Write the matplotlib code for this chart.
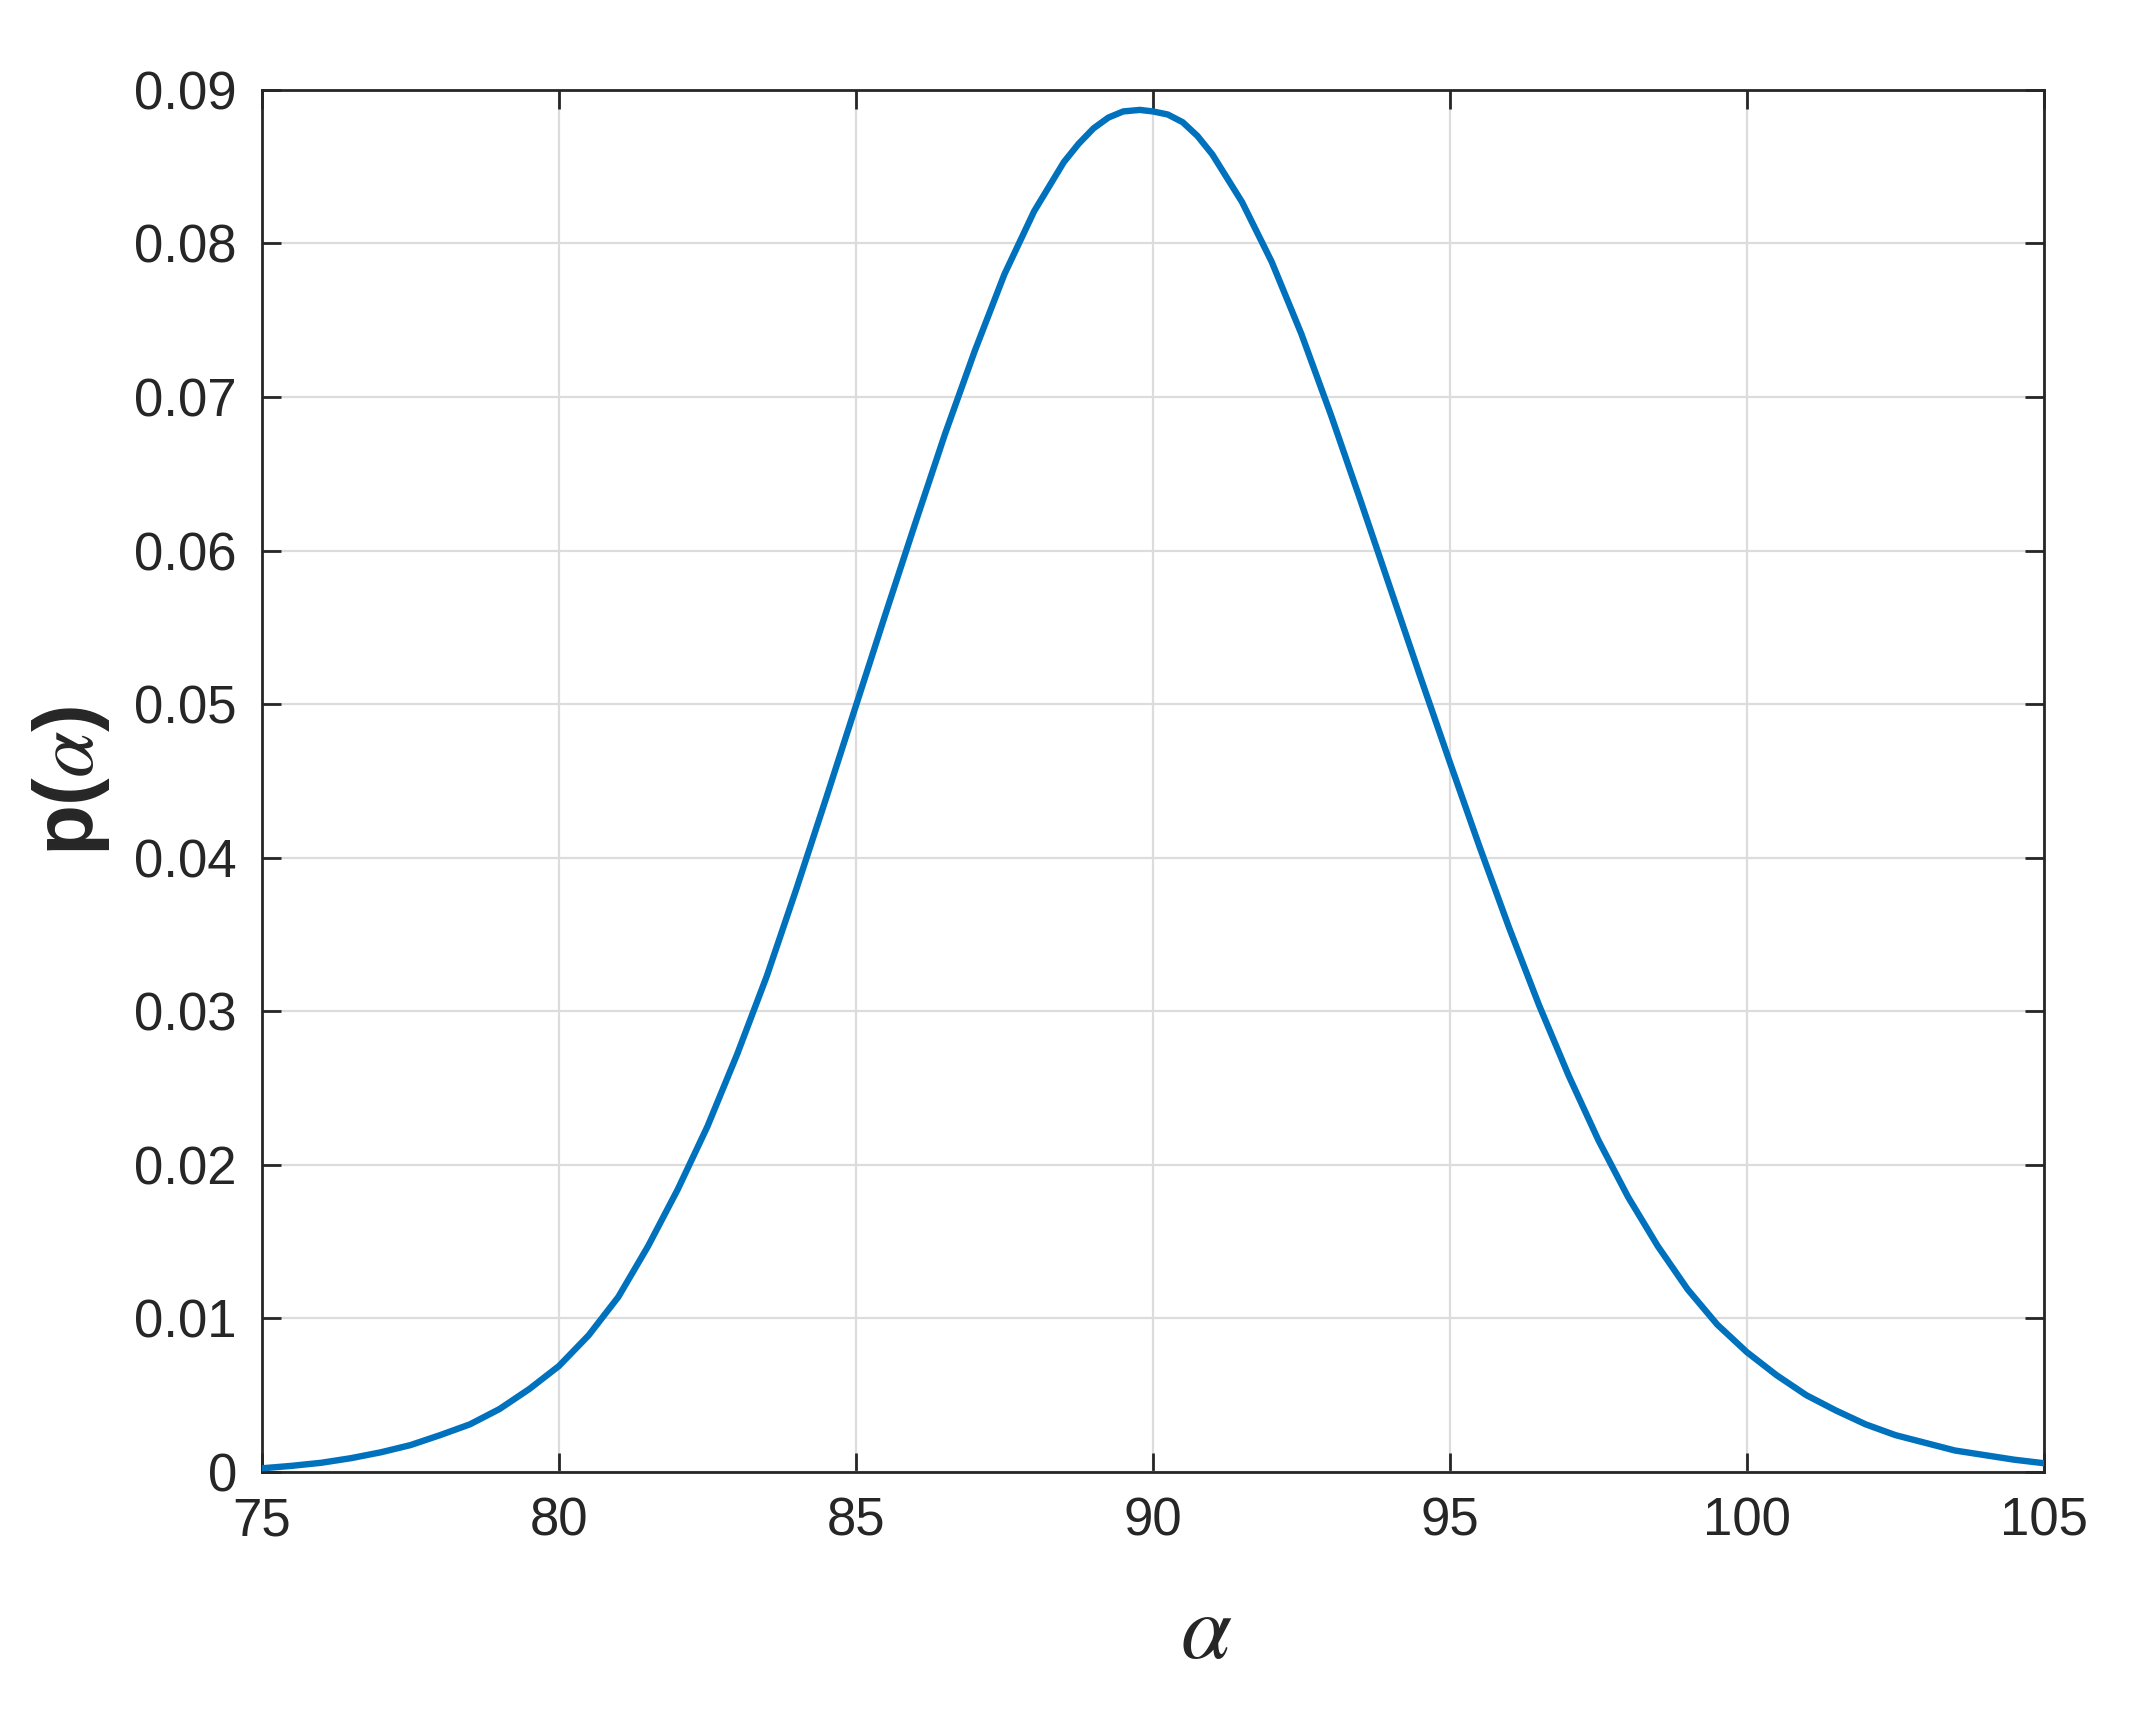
import matplotlib
matplotlib.use("Agg")
import matplotlib.pyplot as plt

# points
alpha_vals = [75.0, 75.5, 76.0, 76.5, 77.0, 77.5, 78.0, 78.5, 79.0, 79.5,
              80.0, 80.5, 81.0, 81.5, 82.0, 82.5, 83.0, 83.5, 84.0, 84.5,
              85.0, 85.5, 86.0, 86.5, 87.0, 87.5, 88.0, 88.5, 88.75, 89.0,
              89.25, 89.5, 89.78, 90.0, 90.25, 90.5, 90.75, 91.0, 91.5, 92.0,
              92.5, 93.0, 93.5, 94.0, 94.5, 95.0, 95.5, 96.0, 96.5, 97.0,
              97.5, 98.0, 98.5, 99.0, 99.5, 100.0, 100.5, 101.0, 101.5, 102.0,
              102.5, 103.0, 103.5, 104.0, 104.5, 105.0]
p_vals = [0.00024, 0.00040, 0.00060, 0.00090, 0.00128, 0.00175, 0.0024, 0.0031, 0.0041, 0.0054,
          0.0069, 0.0089, 0.0114, 0.0147, 0.0184, 0.0225, 0.0272, 0.0323, 0.0380, 0.0439,
          0.0499, 0.0559, 0.0618, 0.0676, 0.0730, 0.0780, 0.0821, 0.0853, 0.0865, 0.0875,
          0.0882, 0.0886, 0.0887, 0.0886, 0.0884, 0.0879, 0.0870, 0.0858, 0.0827, 0.0788,
          0.0741, 0.0688, 0.0632, 0.0575, 0.0518, 0.0462, 0.0407, 0.0354, 0.0304, 0.0258,
          0.0216, 0.0179, 0.0147, 0.0119, 0.0096, 0.0078, 0.0063, 0.0050, 0.0040, 0.0031,
          0.0024, 0.0019, 0.0014, 0.0011, 0.0008, 0.00057]

x_ticks = [75, 80, 85, 90, 95, 100, 105]
y_ticks = [0, 0.01, 0.02, 0.03, 0.04, 0.05, 0.06, 0.07, 0.08, 0.09]
y_tick_labels = ["0", "0.01", "0.02", "0.03", "0.04", "0.05", "0.06", "0.07", "0.08", "0.09"]

plt.rcParams['font.family'] = ['Liberation Sans', 'DejaVu Sans']
plt.rcParams['mathtext.fontset'] = 'custom'
plt.rcParams['mathtext.rm'] = 'Liberation Sans'
plt.rcParams['mathtext.bf'] = 'Liberation Sans:bold'
plt.rcParams['mathtext.it'] = 'STIXGeneral:italic'

dark = '#262626'

fig = plt.figure(figsize=(10.735, 8.565), dpi=200)
ax = fig.add_axes([0.122, 0.1407, 0.830, 0.8068])

ax.plot(alpha_vals, p_vals, color='#0072BD', linewidth=2.3, zorder=3,
        solid_joinstyle='round')

ax.set_xlim(75, 105)
ax.set_ylim(0, 0.09)
ax.set_xticks(x_ticks)
ax.set_yticks(y_ticks)
ax.set_yticklabels(y_tick_labels)

ax.grid(True, color='#dcdcdc', linewidth=0.8)
ax.set_axisbelow(True)
ax.tick_params(direction='in', length=7, width=1.0, colors=dark, labelsize=19,
               top=True, right=True, pad=9)
for s in ax.spines.values():
    s.set_color(dark)
    s.set_linewidth(1.0)

ax.set_xlabel(r'$\alpha$', fontsize=33, color=dark, labelpad=16)
ax.xaxis.label.set_x(0.53)
ax.set_ylabel(r'$\mathbf{p(}\alpha\mathbf{)}$', fontsize=30, color=dark, labelpad=8)

fig.savefig('out.png', dpi=200)
